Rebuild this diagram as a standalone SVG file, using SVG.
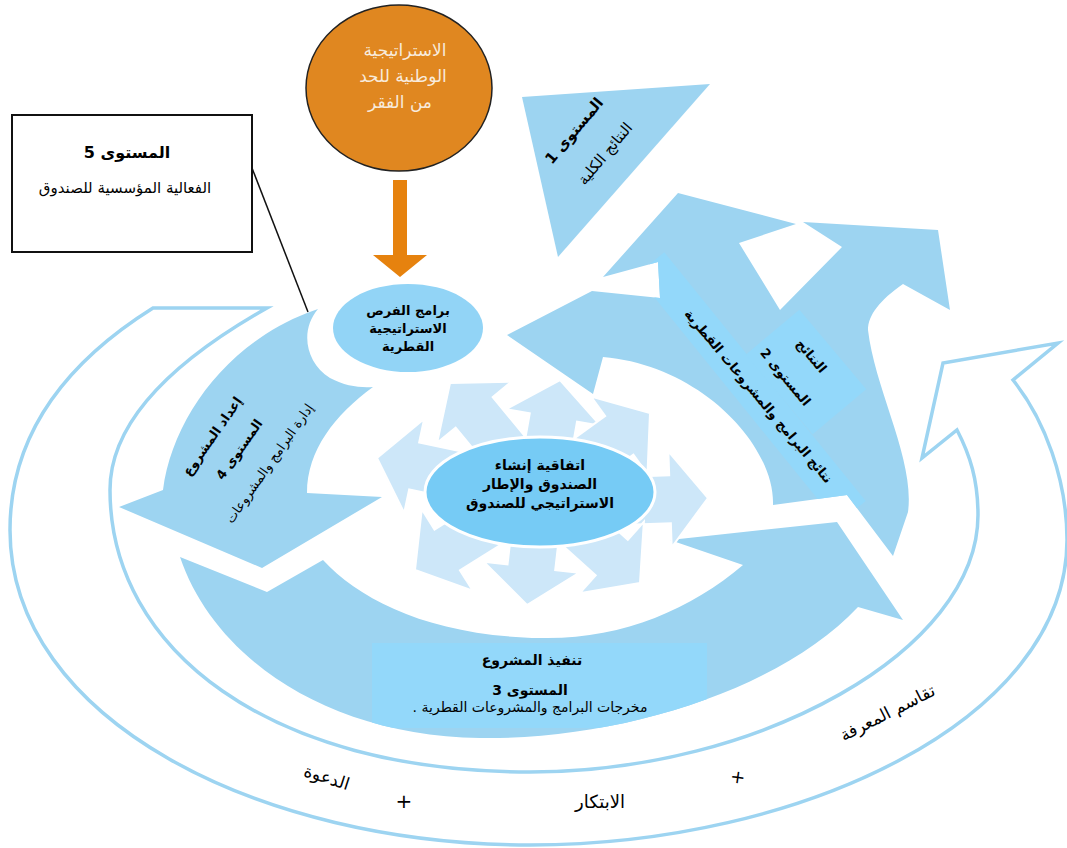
<svg xmlns="http://www.w3.org/2000/svg" xmlns:xlink="http://www.w3.org/1999/xlink" width="1067" height="848" viewBox="0 0 1067 848">
<style>
.band{fill:#9dd4f1}
.lite{fill:#93d8fa}
.sa{fill:#cde7f9;stroke:#fff;stroke-width:2}
.ring{fill:none;stroke:#9dd4f1;stroke-width:3.5;stroke-linejoin:miter}
.t{font-family:'DejaVu Sans',sans-serif;direction:rtl;unicode-bidi:embed;text-anchor:middle;fill:#000}
.b{font-weight:bold}
</style>
<defs>
<path id="p1" d="M522,97 L710,84 L558,257 Z"/>
<path id="p2" d="M507,335 L592,291 L660,298 L658,262 L603,277 L678,193 L796,224 L739,243 L780,310 L842,247 L803,222 L938,230 L950,310 L903,284 C880,300 868,315 868,330 C875,390 915,460 908,512 L893,556 L847,495 L773,505 C775,445 700,365 603,357 L593,394 Z"/>
<path id="p3" d="M180,557 L267,592 L323,560 C360,600 430,636 540,638 C620,640 690,610 743,565 L670,540 L837,522 L903,620 L858,607 C780,690 620,740 480,738 C330,736 215,660 180,557 Z"/>
<path id="p4" d="M307,313 L318,309 C300,330 305,362 330,378 C345,386 360,388 373,387 C335,415 307,450 307,493 L382,497 L262,568 L119,507 L163,490 C172,420 225,345 307,313 Z"/>
<clipPath id="c1"><use xlink:href="#p1"/></clipPath>
<clipPath id="c2"><use xlink:href="#p2"/></clipPath>
<clipPath id="c3"><use xlink:href="#p3"/></clipPath>
<clipPath id="c4"><use xlink:href="#p4"/></clipPath>
<polygon id="sarrow" points="0,0 48,38 24,38 24,95 -24,95 -24,38 -48,38"/>
</defs>

<g id="outer-ring">
<path class="ring" d="M153,308 L267,308 C175,360 110,420 110,490 C110,650 270,772 530,772 C760,772 978,650 978,515 C978,480 970,455 957,430 L922,458 L943,363 L1058,343 L1013,380 C1045,420 1067,480 1067,540 C1067,720 800,845 530,845 C260,845 10,720 10,530 C10,430 70,360 153,308 Z"/>
</g>

<g id="level1">
<use xlink:href="#p1" class="band"/>
<rect class="lite" x="-120" y="-21" width="240" height="42" transform="translate(603,160) rotate(-62)" clip-path="url(#c1)"/>
</g>
<g id="level2">
<use xlink:href="#p2" class="band"/>
<g clip-path="url(#c2)">
<rect class="lite" x="-160" y="-18" width="320" height="36" transform="translate(751,388) rotate(51)"/>
<rect class="lite" x="-52" y="-35" width="104" height="70" transform="translate(806,372) rotate(50)"/>
</g>
</g>
<g id="level3">
<use xlink:href="#p3" class="band"/>
<rect class="lite" x="372" y="643" width="335" height="85" clip-path="url(#c3)"/>
</g>
<g id="level4">
<use xlink:href="#p4" class="band"/>
<rect class="lite" x="-105" y="-50" width="210" height="100" transform="translate(255,445) rotate(-55)" clip-path="url(#c4)"/>
</g>

<g id="small-arrows">
<use xlink:href="#sarrow" class="sa" transform="translate(450,383) rotate(-39.5)"/>
<use xlink:href="#sarrow" class="sa" transform="translate(560,380) rotate(10)"/>
<use xlink:href="#sarrow" class="sa" transform="translate(650,413) rotate(54)"/>
<use xlink:href="#sarrow" class="sa" transform="translate(708,498) rotate(88)"/>
<use xlink:href="#sarrow" class="sa" transform="translate(640,583) rotate(132)"/>
<use xlink:href="#sarrow" class="sa" transform="translate(527,605) rotate(186.6)"/>
<use xlink:href="#sarrow" class="sa" transform="translate(415,570) rotate(-122)"/>
<use xlink:href="#sarrow" class="sa" transform="translate(377,458) rotate(-78)"/>
</g>

<g id="center-node">
<ellipse cx="540" cy="492" rx="115" ry="55" fill="#76cbf5" stroke="#fff" stroke-width="3"/>
<text class="t b" font-size="14" x="540" y="470">اتفاقية إنشاء</text>
<text class="t b" font-size="14" x="540" y="489">الصندوق والإطار</text>
<text class="t b" font-size="14" x="540" y="508">الاستراتيجي للصندوق</text>
</g>

<g id="programs-node">
<ellipse cx="408" cy="328" rx="75" ry="44" fill="#92d4f6" stroke="#fff" stroke-width="26" paint-order="stroke"/>
<text class="t b" font-size="13" x="408" y="315">برامج الفرص</text>
<text class="t b" font-size="13" x="408" y="333">الاستراتيجية</text>
<text class="t b" font-size="13" x="408" y="351">القطرية</text>
</g>

<g id="strategy-node">
<ellipse cx="399" cy="88" rx="93" ry="83" fill="#e08720" stroke="#222" stroke-width="1.5"/>
<text class="t" font-size="17" x="405" y="56" style="fill:#f8ebdc">الاستراتيجية</text>
<text class="t" font-size="17" x="403" y="82" style="fill:#f8ebdc">الوطنية للحد</text>
<text class="t" font-size="17" x="400" y="108" style="fill:#f8ebdc">من الفقر</text>
</g>

<g id="level5-node">
<rect x="12" y="115" width="240" height="137" fill="#fff" stroke="#111" stroke-width="2"/>
<text class="t b" font-size="16" x="127" y="158">المستوى 5</text>
<text class="t" font-size="15" x="125" y="193">الفعالية المؤسسية للصندوق</text>
</g>

<g id="connectors">
<polygon points="393,180 407,180 407,255 427,255 400,277 373,255 393,255" fill="#e6820e"/>
<line x1="252" y1="168" x2="308" y2="312" stroke="#111" stroke-width="1.5"/>
</g>

<g id="labels">
<text class="t b" font-size="15" transform="translate(578,134) rotate(-50)">المستوى 1</text>
<text class="t" font-size="15" transform="translate(609,157) rotate(-50)">النتائج الكلية</text>

<text class="t b" font-size="13" transform="translate(808,359) rotate(50)">النتائج</text>
<text class="t b" font-size="13" transform="translate(782,380) rotate(50)">المستوى 2</text>
<text class="t b" font-size="13" transform="translate(755,399) rotate(50)">نتائج البرامج والمشروعات القطرية</text>

<text class="t b" font-size="14" x="532" y="665">تنفيذ المشروع</text>
<text class="t b" font-size="14" x="530" y="695">المستوى 3</text>
<text class="t" font-size="14" x="530" y="712">مخرجات البرامج والمشروعات القطرية .</text>

<text class="t b" font-size="13" transform="translate(216,439) rotate(-55)">إعداد المشروع</text>
<text class="t b" font-size="13" transform="translate(243,452) rotate(-55)">المستوى 4</text>
<text class="t" font-size="13" transform="translate(273,466) rotate(-55)">إدارة البرامج والمشروعات</text>

<text class="t" font-size="17" transform="translate(325,783) rotate(18)">الدعوة</text>
<text class="t" font-size="20" x="404" y="808">+</text>
<text class="t" font-size="18" x="600" y="808">الابتكار</text>
<text class="t" font-size="18" transform="translate(737,783) rotate(8)">+</text>
<text class="t" font-size="17" transform="translate(890,718) rotate(-27)">تقاسم المعرفة</text>
</g>
</svg>
